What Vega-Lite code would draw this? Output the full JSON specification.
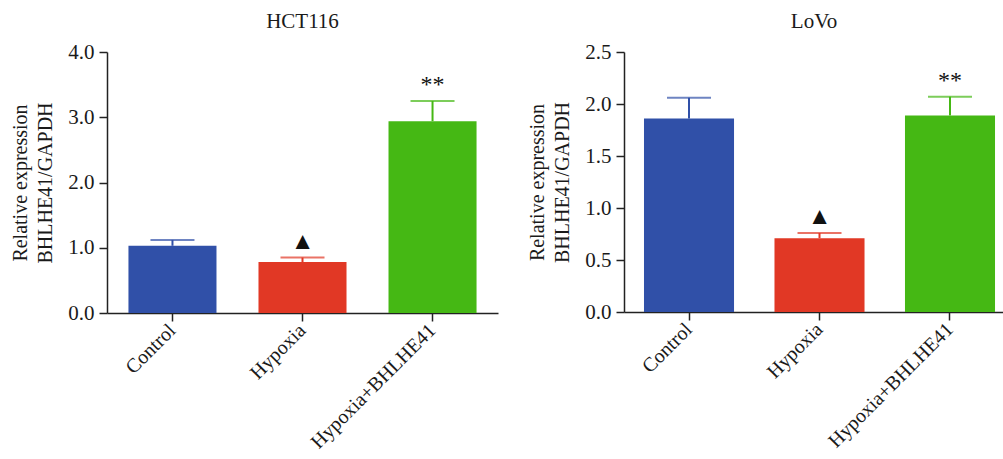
{
  "$schema": "https://vega.github.io/schema/vega-lite/v6.json",
  "background": "white",
  "padding": {"left": 10, "top": 11, "right": 0, "bottom": 0},
  "config": {
    "font": "Liberation Serif",
    "view": {"stroke": null},
    "axis": {
      "labelFont": "Liberation Serif", "titleFont": "Liberation Serif",
      "labelFontSize": 21, "titleFontSize": 20, "titleFontWeight": "normal",
      "labelColor": "#1a1a1a", "titleColor": "#1a1a1a",
      "domainColor": "#222222", "tickColor": "#222222",
      "domainWidth": 1.5, "tickWidth": 1.5, "tickSize": 8, "grid": false, "labelLimit": 400
    },
    "title": {"font": "Liberation Serif", "fontSize": 21, "fontWeight": "normal", "color": "#1a1a1a"}
  },
  "datasets": {
    "hct": [
      {"group": "Control", "value": 1.03, "upper": 1.12, "sig": ""},
      {"group": "Hypoxia", "value": 0.78, "upper": 0.85, "sig": "▲"},
      {"group": "Hypoxia+BHLHE41", "value": 2.94, "upper": 3.25, "sig": "**"}
    ],
    "lovo": [
      {"group": "Control", "value": 1.86, "upper": 2.06, "sig": ""},
      {"group": "Hypoxia", "value": 0.71, "upper": 0.76, "sig": "▲"},
      {"group": "Hypoxia+BHLHE41", "value": 1.89, "upper": 2.07, "sig": "**"}
    ]
  },
  "spacing": 29,
  "hconcat": [
    {
      "title": {"text": "HCT116", "offset": 9},
      "width": 391, "height": 261,
      "data": {"name": "hct"},
      "encoding": {
        "x": {"field": "group", "type": "nominal", "sort": null,
          "scale": {"paddingInner": 0.323, "paddingOuter": 0.165},
          "axis": {"title": null, "labelAngle": -45, "labelAlign": "right", "labelBaseline": "middle", "labelPadding": 6, "labelFontSize": 20}}
      },
      "layer": [
        {"mark": {"type": "bar"},
         "encoding": {
           "y": {"field": "value", "type": "quantitative", "scale": {"domain": [0, 4], "nice": false},
             "axis": {"values": [0, 1, 2, 3, 4], "format": ".1f", "title": ["Relative expression", "BHLHE41/GAPDH"], "titlePadding": 12, "titleLineHeight": 25, "labelPadding": 5}},
           "color": {"field": "group", "type": "nominal", "sort": null, "scale": {"domain": ["Control", "Hypoxia", "Hypoxia+BHLHE41"], "range": ["#3050a8", "#e13825", "#45b814"]}, "legend": null}}},
        {"mark": {"type": "rule", "strokeWidth": 2},
         "encoding": {"y": {"field": "value", "type": "quantitative"}, "y2": {"field": "upper"},
           "color": {"field": "group", "type": "nominal", "sort": null, "legend": null}}},
        {"mark": {"type": "tick", "thickness": 2, "size": 44},
         "encoding": {"y": {"field": "upper", "type": "quantitative"},
           "color": {"field": "group", "type": "nominal", "sort": null, "legend": null}}},
        {"mark": {"type": "text", "baseline": "bottom", "dy": -4, "fontSize": 24, "color": "#111111"},
         "encoding": {"y": {"field": "upper", "type": "quantitative"}, "text": {"field": "sig"}}}
      ]
    },
    {
      "title": {"text": "LoVo", "offset": 9},
      "width": 380, "height": 260,
      "data": {"name": "lovo"},
      "encoding": {
        "x": {"field": "group", "type": "nominal", "sort": null,
          "scale": {"paddingInner": 0.31, "paddingOuter": 0.111, "align": 0.69},
          "axis": {"title": null, "labelAngle": -45, "labelAlign": "right", "labelBaseline": "middle", "labelPadding": 6, "labelFontSize": 20}}
      },
      "layer": [
        {"mark": {"type": "bar"},
         "encoding": {
           "y": {"field": "value", "type": "quantitative", "scale": {"domain": [0, 2.5], "nice": false},
             "axis": {"values": [0, 0.5, 1, 1.5, 2, 2.5], "format": ".1f", "title": ["Relative expression", "BHLHE41/GAPDH"], "titlePadding": 12, "titleLineHeight": 25, "labelPadding": 5}},
           "color": {"field": "group", "type": "nominal", "sort": null, "scale": {"domain": ["Control", "Hypoxia", "Hypoxia+BHLHE41"], "range": ["#3050a8", "#e13825", "#45b814"]}, "legend": null}}},
        {"mark": {"type": "rule", "strokeWidth": 2},
         "encoding": {"y": {"field": "value", "type": "quantitative"}, "y2": {"field": "upper"},
           "color": {"field": "group", "type": "nominal", "sort": null, "legend": null}}},
        {"mark": {"type": "tick", "thickness": 2, "size": 44},
         "encoding": {"y": {"field": "upper", "type": "quantitative"},
           "color": {"field": "group", "type": "nominal", "sort": null, "legend": null}}},
        {"mark": {"type": "text", "baseline": "bottom", "dy": -4, "fontSize": 24, "color": "#111111"},
         "encoding": {"y": {"field": "upper", "type": "quantitative"}, "text": {"field": "sig"}}}
      ]
    }
  ]
}
